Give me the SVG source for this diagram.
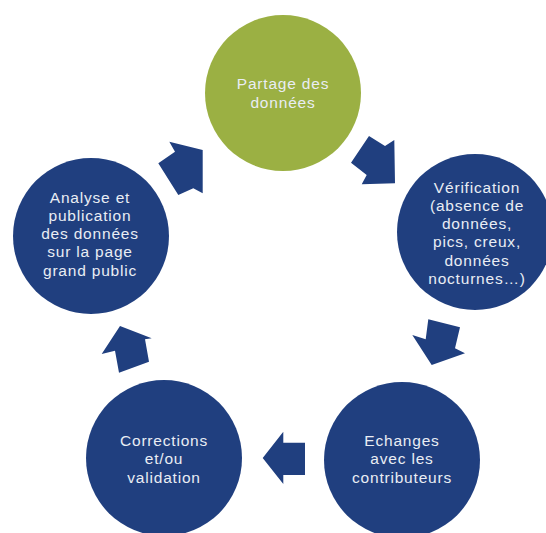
<svg xmlns="http://www.w3.org/2000/svg" width="546" height="533" viewBox="0 0 546 533">
<style>
.blue{fill:#203f7f}
.green{fill:#9bb043}
.arrow{fill:#203f7f}
text{font-family:"Liberation Sans",Arial,sans-serif;font-size:15.5px;letter-spacing:0.8px;fill:#e9edf4;text-anchor:middle}
</style>
<rect width="546" height="533" fill="#ffffff"/>
<g id="connectors">
<polygon class="arrow" points="169.3,141.7 202.7,150 202.7,193.3 193.3,188.3 178.3,195 158.3,163.3 175,151.7"/>
<polygon class="arrow" points="351,162.7 369,136 385,146 394.3,140 395,183.3 361.7,184.3 366.7,175"/>
<polygon class="arrow" points="428.3,319.3 460,327.3 455,348.3 465,353.3 431.7,365 412.3,335 425.7,339.3"/>
<polygon class="arrow" points="262.7,458 283.3,431.7 283.3,442.7 305,442.7 305,475 283.3,475 283.3,484"/>
<polygon class="arrow" points="120,326 151.7,338.3 145,339.3 149,361.7 119,372.7 115,350.7 101.7,354"/>
</g>
<g id="node-partage">
<circle class="green" cx="283" cy="93" r="78"/>
<text x="283" y="88.5">Partage des</text>
<text x="283" y="107.5">données</text>
</g>
<g id="node-verification">
<circle class="blue" cx="475" cy="232" r="78"/>
<text x="477" y="192.5">Vérification</text>
<text x="477" y="210.8">(absence de</text>
<text x="477" y="229.1">données,</text>
<text x="477" y="247.4">pics, creux,</text>
<text x="477" y="265.7">données</text>
<text x="477" y="284">nocturnes…)</text>
</g>
<g id="node-echanges">
<circle class="blue" cx="402" cy="460" r="78"/>
<text x="402" y="446">Echanges</text>
<text x="402" y="464.3">avec les</text>
<text x="402" y="482.7">contributeurs</text>
</g>
<g id="node-corrections">
<circle class="blue" cx="164" cy="458" r="78"/>
<text x="164" y="446">Corrections</text>
<text x="164" y="464.3">et/ou</text>
<text x="164" y="482.7">validation</text>
</g>
<g id="node-analyse">
<circle class="blue" cx="91" cy="236" r="78"/>
<text x="90" y="202.7">Analyse et</text>
<text x="90" y="220.9">publication</text>
<text x="90" y="239.1">des données</text>
<text x="90" y="257.3">sur la page</text>
<text x="90" y="275.5">grand public</text>
</g>
</svg>
